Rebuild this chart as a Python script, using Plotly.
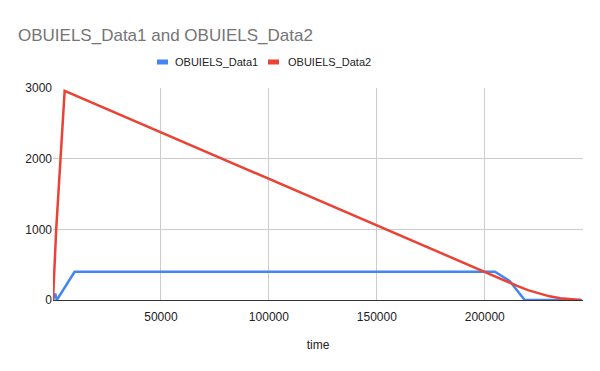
import plotly.graph_objects as go

# Series data
data1_time = [0, 1000, 1800, 10000, 204700, 211500, 218500, 245000]
data1_vals = [0, 90, 0, 400, 400, 270, 0, 0]

data2_time = [0, 1500, 5400, 200000, 205000, 210000, 215000, 220000, 225000,
              230000, 235000, 240000, 244500]
data2_vals = [0, 1010, 2960, 388, 322, 262, 200, 140, 92, 52, 24, 7, 0]

x_ticks = [50000, 100000, 150000, 200000]
y_ticks = [0, 1000, 2000, 3000]

series = [("OBUIELS_Data1", data1_time, data1_vals, "#4285F4"),
          ("OBUIELS_Data2", data2_time, data2_vals, "#EA4335")]

W, H = 600, 371
ML, MR, MT, MB = 53, 17, 88, 71
PW, PH = W - ML - MR, H - MT - MB


def px_x(px):
    return (px - ML) / PW


def px_y(py):
    return (H - MB - py) / PH


fig = go.Figure()
for name, xs, ys, col in series:
    fig.add_trace(go.Scatter(x=xs, y=ys, mode="lines", name=name, showlegend=False,
                             line=dict(color=col, width=2.5)))

# Legend drawn as swatch + label (positions only; names come from the series list)
legend_x = [(157, 173), (268, 286)]
legend_yc = 62
for (name, _, _, col), (sx, tx) in zip(series, legend_x):
    fig.add_shape(type="rect", xref="paper", yref="paper",
                  x0=px_x(sx), x1=px_x(sx + 11), y0=px_y(legend_yc + 2.5),
                  y1=px_y(legend_yc - 2.5), fillcolor=col, line=dict(width=0))
    fig.add_annotation(text=name, xref="paper", yref="paper", x=px_x(tx),
                       y=px_y(legend_yc), xanchor="left", yanchor="middle",
                       showarrow=False, font=dict(size=11, color="#222222"))

fig.update_layout(
    width=W, height=H,
    margin=dict(l=ML, r=MR, t=MT, b=MB),
    paper_bgcolor="white", plot_bgcolor="white",
    font=dict(family="Liberation Sans, Arial, sans-serif", size=12, color="#222222"),
    title=dict(text="OBUIELS_Data1 and OBUIELS_Data2",
               x=18 / W, xanchor="left", y=1 - 35 / H, yanchor="middle",
               font=dict(size=17, color="#757575")),
    showlegend=False,
)
fig.update_xaxes(range=[0, 245500], tickvals=x_ticks, ticktext=[str(v) for v in x_ticks],
                 showgrid=True, gridcolor="#cccccc", gridwidth=1,
                 zeroline=False, showline=True, linecolor="#333333", linewidth=1,
                 ticks="", ticklabelstandoff=6,
                 title=dict(text="time", font=dict(size=12, color="#222222"), standoff=17),
                 tickfont=dict(size=12, color="#222222"))
fig.update_yaxes(range=[0, 3000], tickvals=y_ticks,
                 showgrid=True, gridcolor="#cccccc", gridwidth=1,
                 zeroline=False, showline=False, ticks="",
                 tickfont=dict(size=12, color="#222222"))

fig.write_html("out.html", config={"displayModeBar": False},
               post_script="document.body.style.margin='0';")
